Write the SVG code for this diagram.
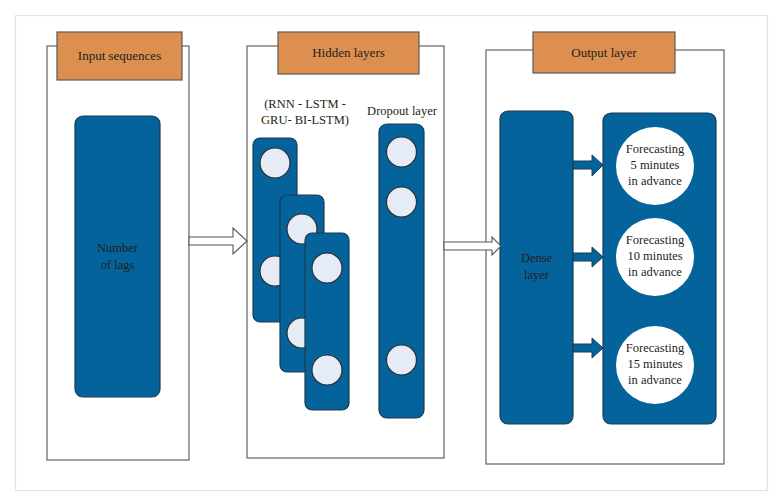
<svg xmlns="http://www.w3.org/2000/svg" width="776" height="493" viewBox="0 0 776 493">
<style>
text{font-family:"Liberation Serif","DejaVu Serif",serif;fill:#231f20;text-anchor:middle}
.lbl{font-size:13px}
.t{font-size:12.5px}
.frame{fill:#fff;stroke:#6f6f6f;stroke-width:1.3}
.tab{fill:#dc8f4f;stroke:#5a5a5a;stroke-width:1.2}
.blue{fill:#04639b;stroke:#1c3a52;stroke-width:1.2}
.dot{fill:#e6ecf6;stroke:#2f2f2f;stroke-width:1.2}
.big{fill:#fff}
.hollow{fill:#fff;stroke:#555;stroke-width:1.1}
.solid{fill:#04639b;stroke:#1c3a52;stroke-width:1}
</style>
<rect x="0" y="0" width="776" height="493" fill="#fff"/>
<rect x="15.5" y="15.5" width="752" height="475" fill="#fff" stroke="#e2e2e2" stroke-width="1.2"/>

<g id="input-panel">
<rect class="frame" x="47" y="46" width="142" height="414"/>
<rect class="tab" x="57" y="32" width="125" height="48"/>
<text class="lbl" x="119.5" y="60">Input sequences</text>
</g>
<g id="lags">
<rect class="blue" x="75" y="116" width="85" height="281" rx="8"/>
<text class="t" x="117.5" y="252">Number</text>
<text class="t" x="117.5" y="269">of lags</text>
</g>

<g id="hidden-panel">
<rect class="frame" x="247" y="46" width="197" height="412"/>
<rect class="tab" x="278" y="32" width="141" height="42"/>
<text class="lbl" x="348.5" y="57">Hidden layers</text>
<text class="t" x="305" y="108">(RNN - LSTM -</text>
<text class="t" x="305" y="124">GRU- BI-LSTM)</text>
<text class="t" x="402" y="115">Dropout layer</text>
</g>
<g id="rnn-1">
<rect class="blue" x="253" y="138" width="44" height="184" rx="7"/>
<circle class="dot" cx="275" cy="163" r="15"/>
<circle class="dot" cx="275" cy="271" r="15"/>
</g>
<g id="rnn-2">
<rect class="blue" x="280" y="195" width="44" height="177" rx="7"/>
<circle class="dot" cx="302" cy="229" r="15"/>
<circle class="dot" cx="302" cy="333" r="15"/>
</g>
<g id="rnn-3">
<rect class="blue" x="305" y="233" width="44" height="177" rx="7"/>
<circle class="dot" cx="327" cy="268" r="15"/>
<circle class="dot" cx="327" cy="370" r="15"/>
</g>
<g id="dropout">
<rect class="blue" x="379" y="124" width="45" height="294" rx="8"/>
<circle class="dot" cx="401.5" cy="152" r="15"/>
<circle class="dot" cx="401.5" cy="202" r="15"/>
<circle class="dot" cx="401.5" cy="360" r="15"/>
</g>

<g id="output-panel">
<rect class="frame" x="486" y="50" width="238" height="414"/>
<rect class="tab" x="533" y="32" width="142" height="41"/>
<text class="lbl" x="604" y="57">Output layer</text>
</g>
<g id="dense">
<rect class="blue" x="500" y="111" width="73" height="313" rx="8"/>
<text class="t" x="536.5" y="262">Dense</text>
<text class="t" x="536.5" y="279">layer</text>
</g>
<g id="forecast">
<rect class="blue" x="603" y="113" width="113" height="311" rx="8"/>
<circle class="big" cx="655" cy="166" r="39"/>
<circle class="big" cx="655" cy="257" r="39"/>
<circle class="big" cx="655" cy="365" r="39"/>
<text class="t" x="655" y="153">Forecasting</text>
<text class="t" x="655" y="169">5 minutes</text>
<text class="t" x="655" y="185">in advance</text>
<text class="t" x="655" y="244">Forecasting</text>
<text class="t" x="655" y="260">10 minutes</text>
<text class="t" x="655" y="276">in advance</text>
<text class="t" x="655" y="352">Forecasting</text>
<text class="t" x="655" y="368">15 minutes</text>
<text class="t" x="655" y="384">in advance</text>
</g>

<g id="connectors">
<polygon class="hollow" points="189,237 233,237 233,228 247,241 233,254 233,245 189,245"/>
<polygon class="hollow" points="444,242 492,242 492,237 501,246 492,255 492,250 444,250"/>
<polygon class="solid" points="573,161 592,161 592,155 603,165 592,176 592,169 573,169"/>
<polygon class="solid" points="573,253 592,253 592,247 603,257 592,267 592,261 573,261"/>
<polygon class="solid" points="573,344 592,344 592,338 603,348 592,358 592,352 573,352"/>
</g>
</svg>
